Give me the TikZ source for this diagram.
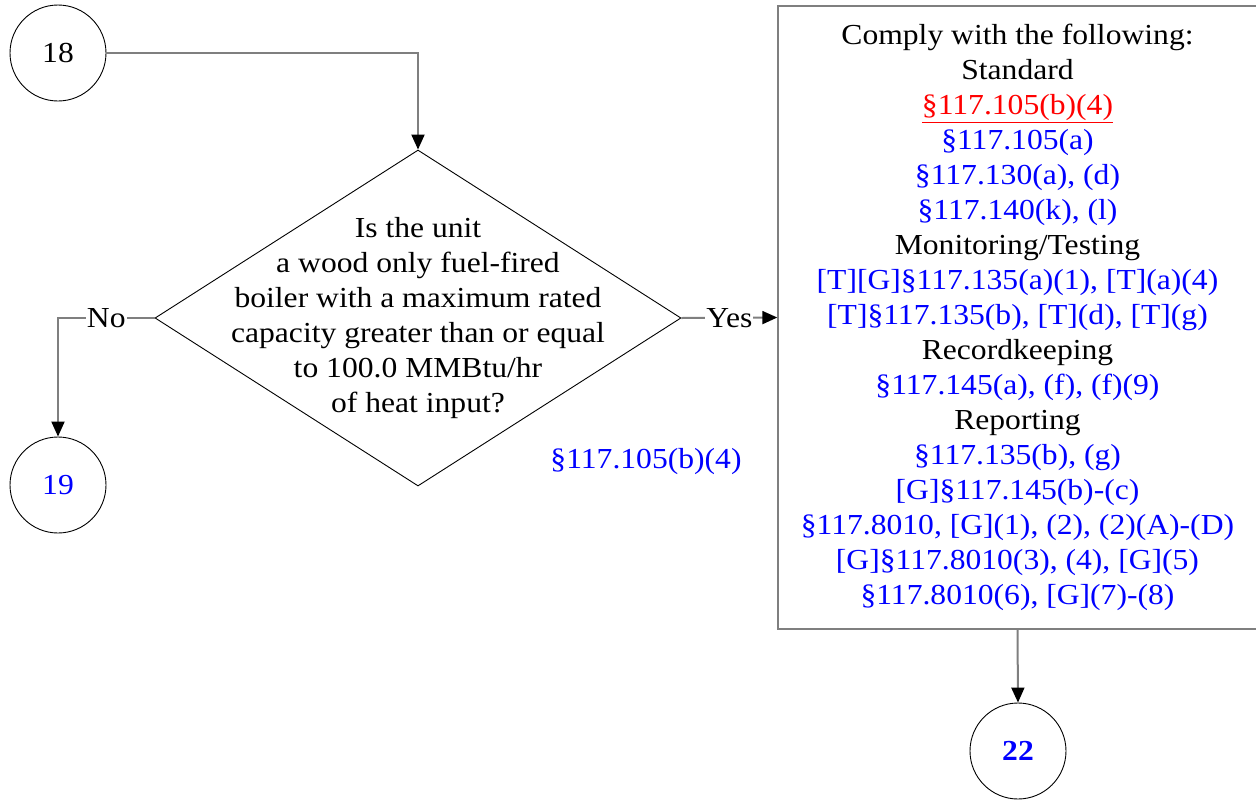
\documentclass[tikz,border=0pt]{standalone}
\usepackage{fontspec}
\setmainfont[FakeStretch=1.09]{Liberation Serif}
\usetikzlibrary{arrows.meta,shapes.geometric}
\definecolor{linegray}{HTML}{7F7F7F}
\definecolor{refblue}{HTML}{0000FF}
\definecolor{refred}{HTML}{FF0000}
\tikzset{
  txt/.style={font=\fontsize{29}{35}\selectfont},
  conn/.style={draw=linegray, line width=2pt, -{Triangle[length=15pt,width=13pt,color=black]}},
  circ/.style={circle, draw=black, line width=0.9pt, minimum size=96pt, inner sep=0pt, txt},
  lbl/.style={fill=white, inner sep=1pt, txt},
}
\begin{document}
\begin{tikzpicture}[x=1pt,y=-1pt]
\useasboundingbox (0,0) rectangle (1256,801);
\node[circ] (c18) at (58,53) {18};
\node[circ, text=refblue] (c19) at (58,485) {19};
\node[circ, text=refblue] (c22) at (1018,751) {\bfseries 22};
\node[diamond, draw=black, line width=0.9pt, minimum width=526pt, minimum height=336pt, inner sep=0pt] (dia) at (418,318) {};
\node[txt, align=center] (diatext) at (418,318) {Is the unit\\a wood only fuel-fired\\boiler with a maximum rated\\capacity greater than or equal\\to 100.0 MMBtu/hr\\of heat input?};
\node[txt, text=refblue] (ref) at (646,462) {§117.105(b)(4)};
\node[draw=linegray, line width=1.4pt, minimum width=479pt, minimum height=623pt, inner sep=0pt, txt, align=center] (box) at (1017.5,317.5) {Comply with the following:\\Standard\\\textcolor{refred}{\underline{§117.105(b)(4)}}\\
\textcolor{refblue}{§117.105(a)}\\\textcolor{refblue}{§117.130(a), (d)}\\\textcolor{refblue}{§117.140(k), (l)}\\Monitoring/Testing\\
\textcolor{refblue}{[T][G]§117.135(a)(1), [T](a)(4)}\\\textcolor{refblue}{[T]§117.135(b), [T](d), [T](g)}\\Recordkeeping\\
\textcolor{refblue}{§117.145(a), (f), (f)(9)}\\Reporting\\\textcolor{refblue}{§117.135(b), (g)}\\\textcolor{refblue}{[G]§117.145(b)-(c)}\\
\textcolor{refblue}{§117.8010, [G](1), (2), (2)(A)-(D)}\\\textcolor{refblue}{[G]§117.8010(3), (4), [G](5)}\\\textcolor{refblue}{§117.8010(6), [G](7)-(8)}};
\draw[conn] (c18.east) -| (dia.north);
\draw[conn] (dia.west) -- node[lbl] (no) {No} (c19.north |- dia.west) -- (c19.north);
\draw[conn] (dia.east) -- node[lbl] (yes) {Yes} (box.west);
\draw[conn] (box.south) -- (c22.north);
\end{tikzpicture}
\end{document}
